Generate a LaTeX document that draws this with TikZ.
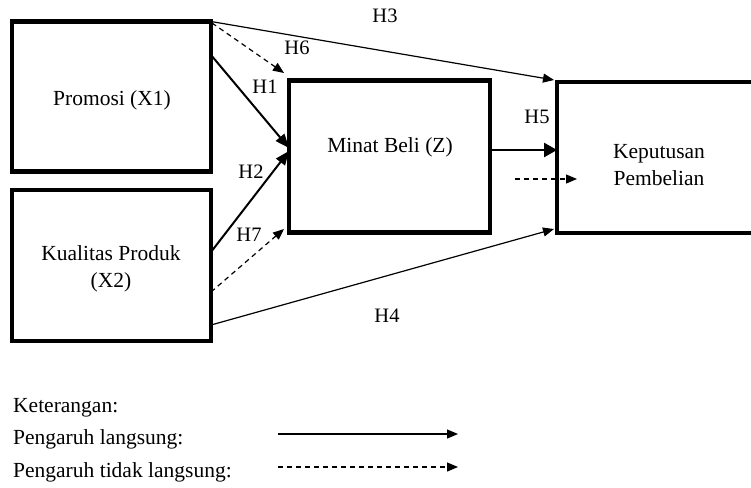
\documentclass[tikz,border=0pt]{standalone}
\usepackage{fontspec}
\setmainfont{Liberation Serif}
\usetikzlibrary{arrows.meta,calc}

\begin{document}
\begin{tikzpicture}[x=1pt,y=-1pt,
  box/.style={draw, line width=4.5pt, inner sep=0pt, outer sep=0pt},
  txt/.style={font=\fontsize{21.5}{27}\selectfont, align=center, inner sep=0pt},
  hyp/.style={font=\fontsize{20.5}{24}\selectfont, inner sep=0pt},
  direct/.style={line width=2pt, -{Triangle[length=14pt,width=11pt]}},
  plain/.style={line width=1.2pt, -{Triangle[length=11pt,width=9pt]}},
  indirect/.style={line width=1.2pt, dash pattern=on 5pt off 4pt, -{Triangle[length=11pt,width=9pt]}},
]
\useasboundingbox (0,0) rectangle (751,487);

% variable boxes
\node[box, minimum width=199pt, minimum height=150pt] (x1) at (111.5,96.5) {};
\node[box, minimum width=199pt, minimum height=151pt] (x2) at (111.5,265.5) {};
\node[box, minimum width=201pt, minimum height=152pt] (z) at (389.5,156.5) {};
\node[box, minimum width=203pt, minimum height=151pt] (y) at (658.5,157.5) {};

% box captions
\node[txt] (tx1) at (112,100) {Promosi (X1)};
\node[txt] (tx2) at (111,269) {Kualitas Produk\\(X2)};
\node[txt] (tz) at (390,147) {Minat Beli (Z)};
\node[txt] (ty) at (659,165) {Keputusan\\Pembelian};

% direct paths
\draw[plain] (x1.north east) -- ($(y.north west)+(-3,-2)$);
\draw[direct] ($(x1.north east)+(0,33.5)$) -- ($(z.west)+(0,-8.5)$);
\draw[direct] ($(x2.north east)+(0,62)$) -- ($(z.west)+(0,-5.5)$);
\draw[plain] ($(x2.north east)+(0,135)$) -- ($(y.south west)+(-3,-4)$);
\coordinate (h5) at ($(z.east)+(0,-6.5)$);
\draw[line width=2.5pt, -{Triangle[length=13pt,width=14pt]}] (h5) -- (h5 -| y.west);

% indirect paths
\draw[indirect] ($(x1.north east)+(1,1.5)$) -- ($(z.north west)+(-5,-7.5)$);
\draw[indirect] ($(x2.north east)+(0,102)$) -- ($(z.south west)+(-5,-3.5)$);
\draw[indirect] ($(y.west)+(-42,21.5)$) -- ($(y.west)+(20,21.5)$);

% hypothesis labels
\node[hyp] (h3) at (385,16) {H3};
\node[hyp] (h6) at (297,48) {H6};
\node[hyp] (h1) at (265,87) {H1};
\node[hyp] (h2) at (251,172) {H2};
\node[hyp] (h7) at (249,235) {H7};
\node[hyp] (h4) at (387,316) {H4};
\node[hyp] (h5l) at (537,117) {H5};

% legend
\node[txt, anchor=base west] (k0) at (13,412) {Keterangan:};
\node[txt, anchor=base west] (k1) at (13,444) {Pengaruh langsung:};
\node[txt, anchor=base west] (k2) at (13,477) {Pengaruh tidak langsung:};
\coordinate (l1a) at (278,434);
\coordinate (l1b) at (458,434);
\coordinate (l2a) at (278,467);
\coordinate (l2b) at (458,467);
\draw[plain] (l1a) -- (l1b);
\draw[indirect] (l2a) -- (l2b);
\end{tikzpicture}
\end{document}
